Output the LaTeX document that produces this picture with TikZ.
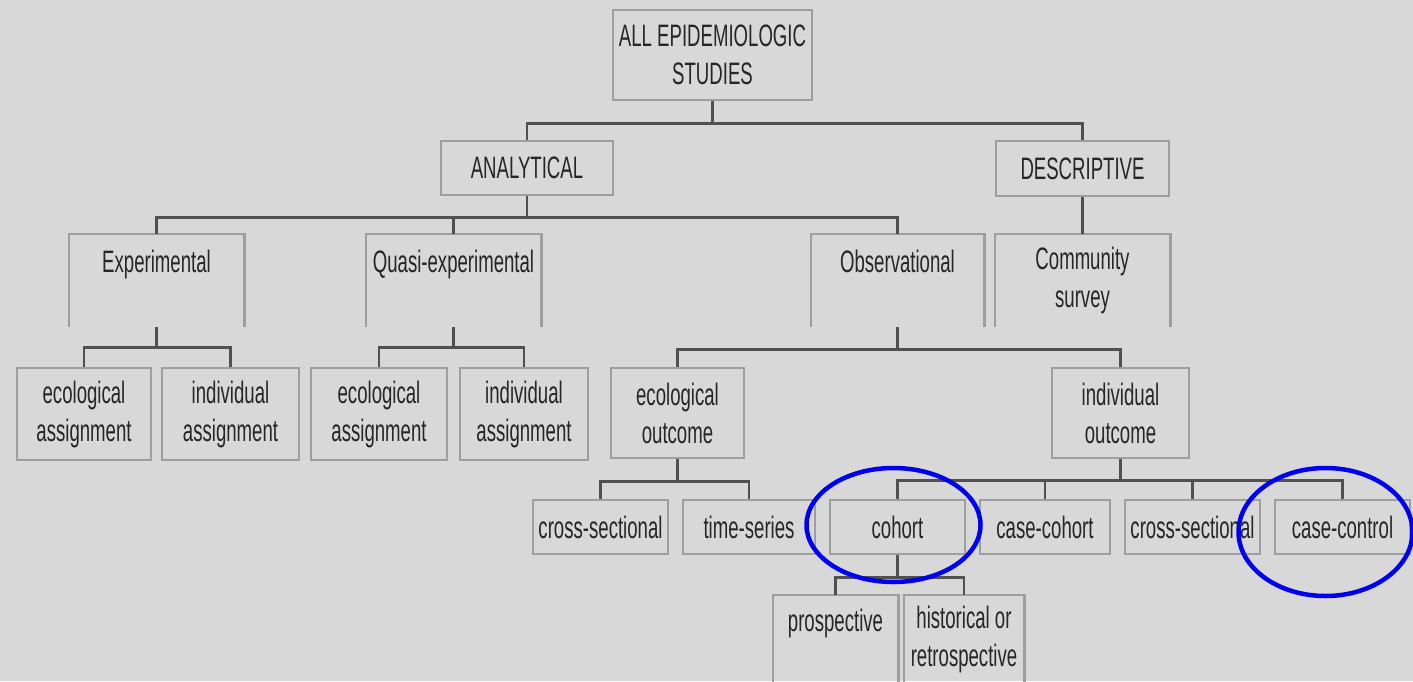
\documentclass[tikz,border=0pt]{standalone}
\usepackage{fontspec}
\setmainfont{Liberation Sans}[FakeStretch=0.6]
\definecolor{bg}{RGB}{216,216,216}
\definecolor{boxline}{RGB}{158,158,158}
\definecolor{conn}{RGB}{80,80,80}
\definecolor{ring}{RGB}{0,0,240}
\begin{document}
\begin{tikzpicture}[x=1pt,y=-1pt,
  box/.style={draw=boxline, line width=2.5pt, inner sep=0pt, align=center,
    font=\fontsize{31}{38}\selectfont, text=black!85},
  obox/.style={box, draw=none},
  boxedge/.style={draw=boxline, line width=2.5pt},
  conn/.style={draw=conn, line width=2.5pt},
  ring/.style={draw=ring, line width=4.5pt}]
\useasboundingbox (0,0) rectangle (1413,681);
\clip (0,0) rectangle (1413,681);
\fill[bg] (0,0) rectangle (1413,681);

% level 0-1
\node[box, minimum width=199pt, minimum height=90pt] (all) at (712.5,55) {ALL EPIDEMIOLOGIC\\STUDIES};
\node[box, minimum width=172pt, minimum height=54pt] (ana) at (527,168) {ANALYTICAL};
\node[box, minimum width=173pt, minimum height=55pt] (des) at (1082.5,168.5) {DESCRIPTIVE};

% level 2 (open bottom)
\node[obox, minimum width=173pt, minimum height=91pt] (exp) at (156.5,280.5) {Experimental\\\mbox{}};
\node[obox, minimum width=173pt, minimum height=91pt] (qua) at (453.5,280.5) {Quasi-experimental\\\mbox{}};
\node[obox, minimum width=171pt, minimum height=91pt] (obs) at (897.5,280.5) {Observational\\\mbox{}};
\node[obox, minimum width=173pt, minimum height=91pt] (com) at (1082.5,280.5) {Community\\survey};
\foreach \n in {exp,qua,obs,com}
  \draw[boxedge] (\n.south west) -- (\n.north west) -- (\n.north east) -- (\n.south east);

% level 3
\node[box, minimum width=134pt, minimum height=92pt] (ea1) at (84,414) {ecological\\assignment};
\node[box, minimum width=137pt, minimum height=92pt] (ia1) at (230.5,414) {individual\\assignment};
\node[box, minimum width=136pt, minimum height=92pt] (ea2) at (379,414) {ecological\\assignment};
\node[box, minimum width=128pt, minimum height=92pt] (ia2) at (524,414) {individual\\assignment};
\node[box, minimum width=133pt, minimum height=90pt] (eo) at (677.5,413) {ecological\\outcome};
\node[box, minimum width=137pt, minimum height=90pt] (io) at (1120.5,413) {individual\\outcome};

% level 4
\node[box, minimum width=135pt, minimum height=54pt] (cs1) at (600.5,527) {cross-sectional};
\node[box, minimum width=132pt, minimum height=54pt] (ts) at (749,527) {time-series};
\node[box, minimum width=135pt, minimum height=54pt] (coh) at (897.5,527) {cohort};
\node[box, minimum width=130pt, minimum height=54pt] (cc) at (1045,527) {case-cohort};
\node[box, minimum width=135pt, minimum height=54pt] (cs2) at (1192.5,527) {cross-sectional};
\node[box, minimum width=135pt, minimum height=54pt] (cct) at (1342.5,527) {case-control};

% level 5 (open bottom)
\node[obox, minimum width=123pt, minimum height=86pt] (pro) at (835.5,639) {prospective\\\mbox{}};
\node[obox, minimum width=118pt, minimum height=86pt] (his) at (964,639) {historical or\\retrospective};
\foreach \n in {pro,his}
  \draw[boxedge] (\n.south west) -- (\n.north west) -- (\n.north east) -- (\n.south east);

% connectors
\foreach \c in {ana,des} \draw[conn] (all.south) -- ++(0,22) -| (\c.north);
\foreach \c in {exp,qua,obs} \draw[conn] (ana.south) -- ++(0,21) -| (\c.north);
\draw[conn] (des.south) -- (com.north);
\foreach \c in {ea1,ia1} \draw[conn] (exp.south) -- ++(0,20) -| (\c.north);
\foreach \c in {ea2,ia2} \draw[conn] (qua.south) -- ++(0,20) -| (\c.north);
\foreach \c in {eo,io} \draw[conn] (obs.south) -- ++(0,22) -| (\c.north);
\foreach \c in {cs1,ts} \draw[conn] (eo.south) -- ++(0,22) -| (\c.north);
\foreach \c in {coh,cc,cs2,cct} \draw[conn] (io.south) -- ++(0,21) -| (\c.north);
\foreach \c in {pro,his} \draw[conn] (coh.south) -- ++(0,22) -| (\c.north);

% highlight rings
\draw[ring] (coh.center) ++(-4,-2) ellipse [x radius=87pt, y radius=57pt];
\draw[ring] (cct.center) ++(-17,5) ellipse [x radius=87pt, y radius=64pt];
\end{tikzpicture}
\end{document}
